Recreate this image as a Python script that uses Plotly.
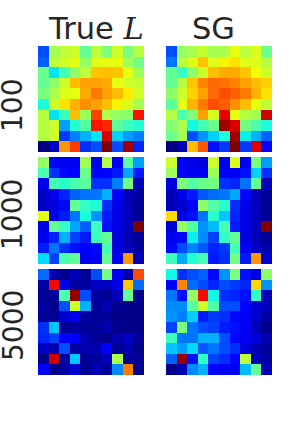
import plotly.graph_objects as go

column_titles = ["True <i style='font-family:\"DejaVu Serif\",serif'>L</i>", "SG"]
row_labels = ["100", "1000", "5000"]

true_100 = [
    [0.20, 0.55, 0.58, 0.60, 0.47, 0.58, 0.50, 0.60, 0.50, 0.57],
    [0.22, 0.58, 0.60, 0.63, 0.53, 0.62, 0.63, 0.63, 0.54, 0.49],
    [0.48, 0.35, 0.43, 0.52, 0.58, 0.70, 0.71, 0.70, 0.63, 0.54],
    [0.47, 0.52, 0.60, 0.71, 0.74, 0.74, 0.73, 0.63, 0.60, 0.59],
    [0.50, 0.56, 0.62, 0.63, 0.73, 0.78, 0.74, 0.71, 0.66, 0.60],
    [0.38, 0.60, 0.67, 0.72, 0.76, 0.74, 0.71, 0.65, 0.61, 0.55],
    [0.57, 0.35, 0.42, 0.71, 0.54, 0.84, 0.56, 0.53, 0.52, 0.89],
    [0.57, 0.60, 0.28, 0.39, 0.45, 0.89, 0.87, 0.46, 0.42, 0.39],
    [0.57, 0.60, 0.18, 0.25, 0.30, 0.35, 0.92, 0.33, 0.28, 0.25],
    [0.00, 0.06, 0.75, 0.85, 0.17, 0.20, 1.00, 0.20, 0.97, 0.16],
]
sg_100 = [
    [0.20, 0.53, 0.56, 0.59, 0.55, 0.56, 0.63, 0.58, 0.62, 0.48],
    [0.24, 0.57, 0.62, 0.70, 0.62, 0.65, 0.67, 0.62, 0.62, 0.57],
    [0.47, 0.41, 0.52, 0.60, 0.71, 0.73, 0.73, 0.70, 0.64, 0.60],
    [0.47, 0.57, 0.70, 0.77, 0.80, 0.79, 0.77, 0.74, 0.71, 0.69],
    [0.52, 0.60, 0.69, 0.74, 0.80, 0.83, 0.81, 0.78, 0.72, 0.67],
    [0.46, 0.63, 0.72, 0.78, 0.83, 0.81, 0.76, 0.71, 0.63, 0.58],
    [0.57, 0.44, 0.51, 0.74, 0.61, 0.91, 0.63, 0.57, 0.55, 0.93],
    [0.51, 0.56, 0.37, 0.43, 0.48, 0.97, 0.92, 0.49, 0.44, 0.38],
    [0.48, 0.55, 0.20, 0.27, 0.33, 0.38, 0.97, 0.36, 0.30, 0.22],
    [0.00, 0.05, 0.71, 0.82, 0.14, 0.18, 1.00, 0.18, 0.92, 0.11],
]
true_1000 = [
    [0.53, 0.12, 0.10, 0.10, 0.55, 0.10, 0.57, 0.11, 0.46, 0.28],
    [0.44, 0.17, 0.13, 0.11, 0.48, 0.11, 0.11, 0.15, 0.29, 0.15],
    [0.10, 0.43, 0.40, 0.44, 0.46, 0.17, 0.17, 0.25, 0.49, 0.05],
    [0.06, 0.10, 0.16, 0.22, 0.24, 0.24, 0.30, 0.12, 0.05, 0.03],
    [0.06, 0.08, 0.13, 0.47, 0.41, 0.38, 0.17, 0.09, 0.05, 0.02],
    [0.62, 0.10, 0.15, 0.24, 0.38, 0.27, 0.15, 0.09, 0.05, 0.02],
    [0.09, 0.47, 0.41, 0.29, 0.22, 0.42, 0.14, 0.09, 0.05, 1.00],
    [0.10, 0.16, 0.30, 0.19, 0.15, 0.42, 0.47, 0.08, 0.04, 0.02],
    [0.15, 0.24, 0.17, 0.14, 0.11, 0.13, 0.43, 0.08, 0.05, 0.03],
    [0.34, 0.19, 0.44, 0.47, 0.10, 0.12, 0.47, 0.10, 0.75, 0.05],
]
sg_1000 = [
    [0.60, 0.10, 0.09, 0.08, 0.60, 0.10, 0.62, 0.10, 0.50, 0.28],
    [0.54, 0.11, 0.10, 0.10, 0.54, 0.10, 0.10, 0.14, 0.33, 0.17],
    [0.08, 0.50, 0.45, 0.48, 0.49, 0.17, 0.16, 0.24, 0.47, 0.05],
    [0.05, 0.09, 0.15, 0.21, 0.23, 0.24, 0.29, 0.13, 0.05, 0.02],
    [0.05, 0.07, 0.12, 0.52, 0.45, 0.40, 0.17, 0.09, 0.05, 0.02],
    [0.68, 0.10, 0.14, 0.24, 0.40, 0.32, 0.16, 0.09, 0.05, 0.02],
    [0.07, 0.53, 0.45, 0.27, 0.31, 0.43, 0.15, 0.09, 0.05, 1.00],
    [0.10, 0.13, 0.36, 0.26, 0.19, 0.41, 0.47, 0.08, 0.05, 0.02],
    [0.13, 0.20, 0.25, 0.21, 0.16, 0.18, 0.43, 0.10, 0.06, 0.04],
    [0.42, 0.29, 0.39, 0.43, 0.15, 0.17, 0.49, 0.15, 0.75, 0.07],
]
true_5000 = [
    [0.23, 0.04, 0.01, 0.05, 0.02, 0.20, 0.49, 0.10, 0.04, 0.83],
    [0.03, 0.90, 0.09, 0.03, 0.03, 0.06, 0.06, 0.09, 0.70, 0.23],
    [0.02, 0.02, 0.44, 0.98, 0.20, 0.03, 0.02, 0.05, 0.47, 0.01],
    [0.03, 0.01, 0.20, 0.60, 0.30, 0.02, 0.05, 0.01, 0.01, 0.01],
    [0.02, 0.02, 0.07, 0.10, 0.03, 0.02, 0.02, 0.01, 0.01, 0.01],
    [0.17, 0.32, 0.02, 0.03, 0.02, 0.02, 0.04, 0.01, 0.01, 0.01],
    [0.16, 0.19, 0.12, 0.11, 0.04, 0.02, 0.01, 0.04, 0.06, 0.02],
    [0.06, 0.04, 0.20, 0.03, 0.04, 0.04, 0.12, 0.02, 0.04, 0.01],
    [0.01, 0.93, 0.03, 0.32, 0.02, 0.03, 0.05, 0.56, 0.02, 0.02],
    [0.11, 0.01, 0.03, 0.07, 0.02, 0.05, 0.02, 0.26, 0.78, 0.01],
]
sg_5000 = [
    [0.37, 0.17, 0.20, 0.22, 0.13, 0.27, 0.50, 0.14, 0.09, 0.52],
    [0.11, 0.77, 0.23, 0.20, 0.16, 0.20, 0.18, 0.16, 0.68, 0.27],
    [0.24, 0.14, 0.53, 0.90, 0.37, 0.17, 0.16, 0.14, 0.41, 0.05],
    [0.26, 0.26, 0.45, 0.60, 0.45, 0.20, 0.20, 0.12, 0.07, 0.05],
    [0.27, 0.25, 0.33, 0.15, 0.18, 0.17, 0.13, 0.10, 0.07, 0.03],
    [0.19, 0.50, 0.24, 0.20, 0.19, 0.15, 0.14, 0.10, 0.05, 0.01],
    [0.42, 0.24, 0.24, 0.30, 0.30, 0.20, 0.13, 0.10, 0.08, 0.04],
    [0.32, 0.28, 0.34, 0.21, 0.24, 0.20, 0.17, 0.08, 0.04, 0.02],
    [0.22, 0.98, 0.14, 0.41, 0.19, 0.17, 0.13, 0.58, 0.05, 0.03],
    [0.01, 0.05, 0.26, 0.30, 0.13, 0.11, 0.10, 0.31, 0.47, 0.05],
]
panels = [[true_100, sg_100], [true_1000, sg_1000], [true_5000, sg_5000]]

JET = [
    [0.0, "rgb(0,0,127)"], [0.11, "rgb(0,0,255)"], [0.125, "rgb(0,0,255)"],
    [0.34, "rgb(0,219,255)"], [0.35, "rgb(0,230,247)"], [0.375, "rgb(21,255,226)"],
    [0.64, "rgb(238,255,8)"], [0.65, "rgb(247,246,0)"], [0.66, "rgb(255,236,0)"],
    [0.89, "rgb(255,19,0)"], [0.91, "rgb(232,0,0)"], [1.0, "rgb(127,0,0)"],
]

W, H = 302, 432
col_px = [(38, 144), (166, 272)]
row_px = [(46, 152), (157, 264), (269, 375)]
INK = "#262626"

fig = go.Figure()
layout = dict(width=W, height=H, margin=dict(l=0, r=0, t=0, b=0),
              paper_bgcolor="white", plot_bgcolor="white", showlegend=False,
              font=dict(family="DejaVu Sans", color=INK), annotations=[])

n = 0
for r, row in enumerate(panels):
    for c, z in enumerate(row):
        n += 1
        suffix = "" if n == 1 else str(n)
        fig.add_trace(go.Heatmap(z=z, zmin=0, zmax=1, colorscale=JET, showscale=False,
                                 xaxis="x" + suffix, yaxis="y" + suffix, hoverinfo="skip"))
        layout["xaxis" + suffix] = dict(domain=[col_px[c][0] / W, col_px[c][1] / W],
                                        range=[-0.5, 9.5], visible=False, anchor="y" + suffix)
        layout["yaxis" + suffix] = dict(domain=[1 - row_px[r][1] / H, 1 - row_px[r][0] / H],
                                        range=[9.5, -0.5], visible=False, anchor="x" + suffix)

title_x = [96, 213]
for t, x in zip(column_titles, title_x):
    layout["annotations"].append(dict(text=t, xref="paper", yref="paper", x=x / W, y=1 - 47 / H,
                                      xanchor="center", yanchor="bottom", showarrow=False,
                                      font=dict(size=30.5, color=INK), borderpad=0))
label_y = [106, 215, 326]
for t, y in zip(row_labels, label_y):
    layout["annotations"].append(dict(text=t, xref="paper", yref="paper", x=13 / W, y=1 - y / H,
                                      xanchor="center", yanchor="middle", textangle=-90, showarrow=False,
                                      font=dict(size=28, color=INK), borderpad=0))
fig.update_layout(**layout)
fig.write_html("out.html", config={"displayModeBar": False, "responsive": False},
               post_script="document.body.style.margin='0';document.documentElement.style.overflow='hidden';")
